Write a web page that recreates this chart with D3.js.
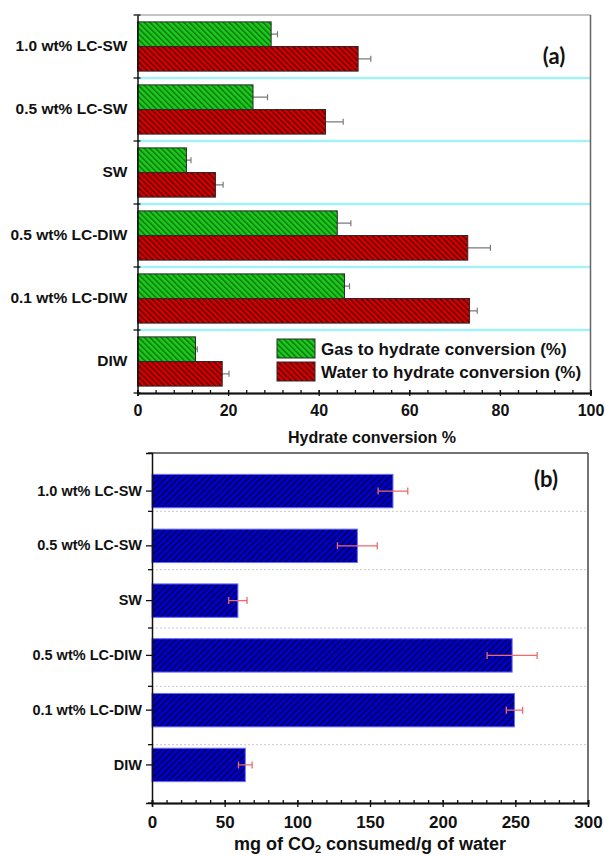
<!DOCTYPE html>
<html>
<head>
<meta charset="utf-8">
<script src="https://cdn.jsdelivr.net/npm/d3@7"></script>
<style>
  body { margin: 0; background: #fff; }
  text { font-family: "Liberation Sans", Arial, sans-serif; font-weight: bold; fill: #111; }
</style>
</head>
<body>
<div class="chart"></div>
<script>
// data
const categories = ["1.0 wt% LC-SW", "0.5 wt% LC-SW", "SW", "0.5 wt% LC-DIW", "0.1 wt% LC-DIW", "DIW"];
const gasConv   = [29.5, 25.5, 10.8, 44.1, 45.7, 12.8];
const gasErr    = [1.4, 3.2, 1.0, 3.0, 1.1, 0.4];
const waterConv = [48.7, 41.5, 17.2, 72.9, 73.3, 18.7];
const waterErr  = [2.8, 3.9, 1.7, 5.0, 1.7, 1.5];
const co2Uptake = [165.8, 141.3, 59.1, 247.8, 249.4, 64.2];
const co2Err    = [10.2, 13.7, 6.3, 17.2, 5.6, 4.7];
const seriesNames = ["Gas to hydrate conversion (%)", "Water to hydrate conversion (%)"];
const ticksA = [0, 20, 40, 60, 80, 100];
const ticksB = [0, 50, 100, 150, 200, 250, 300];

const width = 605, height = 857;

const svg = d3.select(".chart").append("svg")
  .attr("width", width)
  .attr("height", height);

// hatch patterns
const defs = svg.append("defs");
function hatch(id, bg, fg, angle, size) {
  const p = defs.append("pattern")
    .attr("id", id)
    .attr("patternUnits", "userSpaceOnUse")
    .attr("width", size).attr("height", size)
    .attr("patternTransform", "rotate(" + angle + ")");
  p.append("rect").attr("width", size).attr("height", size).attr("fill", bg);
  p.append("line").attr("x1", 0.7).attr("y1", 0).attr("x2", 0.7).attr("y2", size)
    .attr("stroke", fg).attr("stroke-width", 1.4);
}
hatch("hGreen", "#1ccc1c", "#0b6e0b", -45, 4);
hatch("hRed", "#d60000", "#580000", -45, 4);
hatch("hBlue", "#0000c8", "#000048", 45, 4.5);

// ---------- panel (a) ----------
const a = {left: 137.5, right: 590.5, top: 15, bottom: 393};

const xA = d3.scaleLinear().domain([0, 100]).range([a.left, a.right]);
const yA = d3.scaleBand().domain(categories).range([a.top, a.bottom]);
const subA = d3.scaleBand().domain([0, 1]).range([0, yA.bandwidth()])
  .paddingInner(0).paddingOuter(0.28);

const gA = svg.append("g");

// cyan separators between groups
gA.selectAll(".sep")
  .data(categories.slice(1))
  .join("line")
  .attr("x1", a.left).attr("x2", a.right)
  .attr("y1", d => yA(d)).attr("y2", d => yA(d))
  .attr("stroke", "#a4f2f7").attr("stroke-width", 2.5);

const groupsA = categories.map((c, i) => ({
  cat: c,
  bars: [
    {s: 0, v: gasConv[i], e: gasErr[i], fill: "url(#hGreen)"},
    {s: 1, v: waterConv[i], e: waterErr[i], fill: "url(#hRed)"}
  ]
}));

const grp = gA.selectAll(".grp")
  .data(groupsA)
  .join("g")
  .attr("transform", d => "translate(0," + yA(d.cat) + ")");

// error bars (only the upper side shows)
grp.selectAll(".err")
  .data(d => d.bars)
  .join("path")
  .attr("d", d => {
    const y = subA(d.s) + subA.bandwidth() / 2;
    const x2 = xA(d.v + d.e);
    return "M" + xA(d.v) + "," + y + "H" + x2 + "M" + x2 + "," + (y - 3) + "V" + (y + 3);
  })
  .attr("stroke", "#7a7a7a").attr("stroke-width", 1.2).attr("fill", "none");

grp.selectAll("rect")
  .data(d => d.bars)
  .join("rect")
  .attr("x", xA(0))
  .attr("y", d => subA(d.s))
  .attr("width", d => xA(d.v) - xA(0))
  .attr("height", subA.bandwidth())
  .attr("fill", d => d.fill)
  .attr("stroke", "#2a2a2a").attr("stroke-width", 1);

// frame
gA.append("line").attr("x1", a.left).attr("x2", a.right).attr("y1", a.top).attr("y2", a.top)
  .attr("stroke", "#8a8a8a").attr("stroke-width", 1.2);
gA.append("line").attr("x1", a.right).attr("x2", a.right).attr("y1", a.top).attr("y2", a.bottom)
  .attr("stroke", "#666").attr("stroke-width", 1.5);

// x axis
const xAxisA = gA.append("g").attr("transform", "translate(0," + a.bottom + ")");
xAxisA.call(d3.axisBottom(xA).tickValues(d3.range(0, 101, 4)).tickSize(-3).tickFormat(""));
xAxisA.append("g").call(d3.axisBottom(xA).tickValues(ticksA).tickSize(-3).tickFormat(""));
xAxisA.append("g").call(d3.axisBottom(xA).tickValues(ticksA).tickSize(3).tickPadding(9));
xAxisA.selectAll("path.domain").attr("stroke", "#111").attr("stroke-width", 1.5);
xAxisA.selectAll(".tick line").attr("stroke", "#111").attr("stroke-width", 1.3);
xAxisA.selectAll(".tick text").attr("font-size", 16).attr("font-family", null).attr("fill", "#111");

// y axis: labels at group centres, ticks at group boundaries
const yAxisA = gA.append("g").attr("transform", "translate(" + a.left + ",0)");
yAxisA.call(d3.axisLeft(yA).tickSize(0).tickPadding(10));
yAxisA.select("path.domain").attr("stroke", "#111").attr("stroke-width", 1.5);
yAxisA.selectAll(".tick text").attr("font-size", 15.5).attr("font-family", null).attr("fill", "#111");
yAxisA.selectAll(".bnd")
  .data(d3.range(categories.length + 1))
  .join("line")
  .attr("x1", -4).attr("x2", 3)
  .attr("y1", i => a.top + i * yA.step()).attr("y2", i => a.top + i * yA.step())
  .attr("stroke", "#111").attr("stroke-width", 1.3);

gA.append("text")
  .attr("x", (a.left + a.right) / 2 + 8).attr("y", 443)
  .attr("text-anchor", "middle").attr("font-size", 16)
  .text("Hydrate conversion %");

gA.append("text")
  .attr("x", 554).attr("y", 64)
  .attr("text-anchor", "middle").attr("font-size", 22)
  .style("font-family", "Lato, 'Open Sans', sans-serif")
  .text("(a)");

// legend
const legend = gA.append("g").attr("transform", "translate(277,339)");
const legItems = legend.selectAll("g")
  .data(seriesNames)
  .join("g")
  .attr("transform", (d, i) => "translate(0," + i * 23 + ")");
legItems.append("rect")
  .attr("width", 38).attr("height", 19)
  .attr("fill", (d, i) => i === 0 ? "url(#hGreen)" : "url(#hRed)")
  .attr("stroke", "#2a2a2a").attr("stroke-width", 1);
legItems.append("text")
  .attr("x", 44).attr("y", 16)
  .attr("font-size", 17)
  .text(d => d);

// ---------- panel (b) ----------
const b = {left: 152, right: 588, top: 453, bottom: 803};

const xB = d3.scaleLinear().domain([0, 300]).range([b.left, b.right]);
const yB = d3.scaleBand().domain(categories).range([b.top, b.bottom]).padding(0.39);
// boundary positions without padding
const yBnd = d3.scaleBand().domain(categories).range([b.top, b.bottom]);

const gB = svg.append("g");

gB.selectAll(".grid")
  .data(categories.slice(1))
  .join("line")
  .attr("x1", b.left).attr("x2", b.right)
  .attr("y1", d => yBnd(d)).attr("y2", d => yBnd(d))
  .attr("stroke", "#c8c8c8").attr("stroke-width", 1)
  .attr("stroke-dasharray", "2,2");

const dataB = categories.map((c, i) => ({cat: c, v: co2Uptake[i], e: co2Err[i]}));

gB.selectAll(".bar")
  .data(dataB)
  .join("rect")
  .attr("x", xB(0))
  .attr("y", d => yB(d.cat))
  .attr("width", d => xB(d.v) - xB(0))
  .attr("height", yB.bandwidth())
  .attr("fill", "url(#hBlue)")
  .attr("stroke", "#6a6aff").attr("stroke-width", 1);

gB.selectAll(".errb")
  .data(dataB)
  .join("path")
  .attr("d", d => {
    const y = yB(d.cat) + yB.bandwidth() / 2;
    const x1 = xB(d.v - d.e), x2 = xB(d.v + d.e);
    return "M" + x1 + "," + y + "H" + x2 +
      "M" + x1 + "," + (y - 3.5) + "V" + (y + 3.5) +
      "M" + x2 + "," + (y - 3.5) + "V" + (y + 3.5);
  })
  .attr("stroke", "#f06a6a").attr("stroke-width", 1.3).attr("fill", "none");

gB.append("line").attr("x1", b.left).attr("x2", b.right).attr("y1", b.top).attr("y2", b.top)
  .attr("stroke", "#444").attr("stroke-width", 1.5);
gB.append("line").attr("x1", b.right).attr("x2", b.right).attr("y1", b.top).attr("y2", b.bottom)
  .attr("stroke", "#444").attr("stroke-width", 1.5);

const xAxisB = gB.append("g").attr("transform", "translate(0," + b.bottom + ")");
xAxisB.call(d3.axisBottom(xB).tickValues(d3.range(0, 301, 10)).tickSize(-3).tickFormat(""));
xAxisB.append("g").call(d3.axisBottom(xB).tickValues(ticksB).tickSize(-3).tickFormat(""));
xAxisB.append("g").call(d3.axisBottom(xB).tickValues(ticksB).tickSize(4).tickPadding(9));
xAxisB.selectAll("path.domain").attr("stroke", "#111").attr("stroke-width", 1.5);
xAxisB.selectAll(".tick line").attr("stroke", "#111").attr("stroke-width", 1.3);
xAxisB.selectAll(".tick text").attr("font-size", 17).attr("font-family", null).attr("fill", "#111");

const yAxisB = gB.append("g").attr("transform", "translate(" + b.left + ",0)");
yAxisB.call(d3.axisLeft(yB).tickSize(6).tickPadding(4));
yAxisB.select("path.domain").attr("stroke", "#111").attr("stroke-width", 1.5);
yAxisB.selectAll(".tick line").attr("stroke", "#111").attr("stroke-width", 1.3);
yAxisB.selectAll(".tick text").attr("font-size", 14.5).attr("font-family", null).attr("fill", "#111");
yAxisB.selectAll(".bnd")
  .data(d3.range(categories.length + 1))
  .join("line")
  .attr("x1", -4).attr("x2", 0)
  .attr("y1", i => b.top + i * yBnd.step()).attr("y2", i => b.top + i * yBnd.step())
  .attr("stroke", "#111").attr("stroke-width", 1.3);

const titleB = gB.append("text")
  .attr("x", (b.left + b.right) / 2).attr("y", 850)
  .attr("text-anchor", "middle").attr("font-size", 18);
titleB.append("tspan").text("mg of CO");
titleB.append("tspan").attr("font-size", 11).attr("dy", 3).text("2");
titleB.append("tspan").attr("dy", -3).text(" consumed/g of water");

gB.append("text")
  .attr("x", 546).attr("y", 487)
  .attr("text-anchor", "middle").attr("font-size", 22)
  .style("font-family", "Lato, 'Open Sans', sans-serif")
  .text("(b)");
</script>
</body>
</html>
